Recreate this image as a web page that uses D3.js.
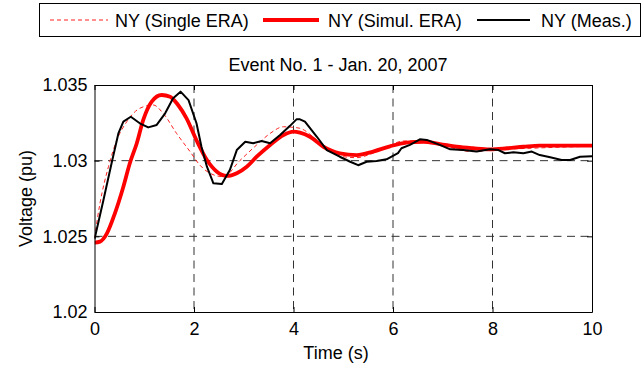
<!DOCTYPE html>
<html>
<head>
<meta charset="utf-8">
<script src="https://cdn.jsdelivr.net/npm/d3@7"></script>
<style>
  html, body { margin: 0; padding: 0; background: #fff; }
  svg { display: block; font-family: "Liberation Sans", Arial, Helvetica, sans-serif; }
</style>
</head>
<body>
<svg id="chart" width="644" height="366"></svg>
<script>
// Time stamps (s) and voltages (pu) for each trace
const singleTime = [0, 0.11, 0.28, 0.45, 0.65, 0.91, 1.18, 1.38, 1.65, 1.92, 2.12, 2.32, 2.59, 2.92, 3.26, 3.53, 3.8, 4.0, 4.13, 4.6, 4.93, 5.27, 5.6, 5.94, 6.2, 6.61, 7.0, 7.6, 8.0, 9.0, 10.0];
const singleERA  = [1.0249, 1.02718, 1.0296, 1.03137, 1.03258, 1.03346, 1.03368, 1.03313, 1.0318, 1.0306, 1.0297, 1.02917, 1.02894, 1.0300, 1.03104, 1.0318, 1.03224, 1.0322, 1.03214, 1.0310, 1.0303, 1.0302, 1.0305, 1.0310, 1.0313, 1.0313, 1.0310, 1.0306, 1.0307, 1.03085, 1.03095];

const simulTime = [0, 0.11, 0.25, 0.41, 0.58, 0.71, 0.85, 0.98, 1.15, 1.35, 1.52, 1.68, 1.85, 2.05, 2.26, 2.46, 2.66, 2.86, 3.06, 3.26, 3.53, 3.8, 4.0, 4.13, 4.33, 4.6, 4.93, 5.27, 5.6, 5.94, 6.27, 6.61, 6.94, 7.28, 7.61, 7.95, 8.29, 8.62, 8.95, 9.29, 10.0];
const simulERA  = [1.02458, 1.02465, 1.0252, 1.02652, 1.02828, 1.02983, 1.03115, 1.03269, 1.0339, 1.03434, 1.03423, 1.03368, 1.0328, 1.03135, 1.03004, 1.02927, 1.02899, 1.02917, 1.0296, 1.03026, 1.03104, 1.0317, 1.03192, 1.03185, 1.03158, 1.03092, 1.03048, 1.03037, 1.0306, 1.03095, 1.03119, 1.03125, 1.0311, 1.03092, 1.03082, 1.03075, 1.03082, 1.03092, 1.031, 1.031, 1.031];

const measTime = [0, 0.18, 0.35, 0.48, 0.58, 0.73, 0.91, 1.08, 1.25, 1.42, 1.58, 1.73, 1.89, 2.05, 2.15, 2.26, 2.39, 2.56, 2.72, 2.86, 3.03, 3.19, 3.36, 3.53, 3.73, 3.93, 4.06, 4.13, 4.23, 4.47, 4.67, 4.93, 5.14, 5.3, 5.47, 5.67, 5.87, 6.1, 6.17, 6.34, 6.54, 6.68, 6.94, 7.15, 7.41, 7.68, 7.95, 8.12, 8.25, 8.42, 8.62, 8.79, 8.95, 9.16, 9.39, 9.56, 9.76, 10.0];
const measured = [1.0248, 1.0274, 1.02993, 1.0318, 1.03258, 1.0329, 1.03247, 1.0322, 1.03236, 1.03313, 1.03412, 1.03456, 1.034, 1.03247, 1.03092, 1.0296, 1.0285, 1.02846, 1.02938, 1.0307, 1.03125, 1.03115, 1.0313, 1.03115, 1.0317, 1.0323, 1.03273, 1.03273, 1.03258, 1.03158, 1.0307, 1.03026, 1.02993, 1.0297, 1.02993, 1.02998, 1.03009, 1.0305, 1.03082, 1.03104, 1.03141, 1.03137, 1.03104, 1.03075, 1.0307, 1.0306, 1.03076, 1.0307, 1.03049, 1.03055, 1.03049, 1.0306, 1.03037, 1.03022, 1.03004, 1.03004, 1.03026, 1.0303];

const xTicks = [0, 2, 4, 6, 8, 10];
const yTicks = [1.02, 1.025, 1.03, 1.035];
const yTickLabels = ["1.02", "1.025", "1.03", "1.035"];

const titleText = "Event No. 1 - Jan. 20, 2007";
const xLabel = "Time (s)";
const yLabel = "Voltage (pu)";
const seriesNames = ["NY (Single ERA)", "NY (Simul. ERA)", "NY (Meas.)"];

const svg = d3.select("#chart");
const plot = { left: 94.5, right: 592, top: 85, bottom: 312 };
const fontSize = "18px";

const x = d3.scaleLinear().domain([0, 10]).range([plot.left, plot.right]);
const y = d3.scaleLinear().domain([1.02, 1.035]).range([plot.bottom, plot.top]);

// Dashed grid
const grid = svg.append("g").attr("stroke", "#333").attr("stroke-width", 1).attr("stroke-dasharray", "8,5.5");
xTicks.slice(1, -1).forEach(t => {
  grid.append("line").attr("x1", x(t)).attr("x2", x(t)).attr("y1", plot.top).attr("y2", plot.bottom);
});
yTicks.slice(1, -1).forEach(v => {
  grid.append("line").attr("x1", plot.left).attr("x2", plot.right).attr("y1", y(v)).attr("y2", y(v));
});

// Traces
const smooth = d3.line().x(d => x(d[0])).y(d => y(d[1])).curve(d3.curveMonotoneX);
const jagged = d3.line().x(d => x(d[0])).y(d => y(d[1]));
const zip = (ts, vs) => ts.map((t, i) => [t, vs[i]]);

svg.append("clipPath").attr("id", "clip").append("rect")
  .attr("x", plot.left).attr("y", plot.top - 2).attr("width", plot.right - plot.left).attr("height", plot.bottom - plot.top + 4);
const traces = svg.append("g").attr("clip-path", "url(#clip)");

traces.append("path").attr("d", smooth(zip(singleTime, singleERA)))
  .attr("fill", "none").attr("stroke", "#ff2020").attr("stroke-width", 1).attr("stroke-dasharray", "4,3");
traces.append("path").attr("d", smooth(zip(simulTime, simulERA)))
  .attr("fill", "none").attr("stroke", "#ff0000").attr("stroke-width", 3.8).attr("stroke-linejoin", "round");
traces.append("path").attr("d", jagged(zip(measTime, measured)))
  .attr("fill", "none").attr("stroke", "#000").attr("stroke-width", 2).attr("stroke-linejoin", "round");

// Axes box with inward ticks
const xAxisB = d3.axisBottom(x).tickValues(xTicks).tickSizeInner(-5).tickSizeOuter(0).tickPadding(9).tickFormat(d3.format("d"));
const xAxisT = d3.axisTop(x).tickValues(xTicks).tickSizeInner(-5).tickSizeOuter(0).tickFormat("");
const yAxisL = d3.axisLeft(y).tickValues(yTicks).tickSizeInner(-5).tickSizeOuter(0).tickPadding(7).tickFormat((d, i) => yTickLabels[i]);
const yAxisR = d3.axisRight(y).tickValues(yTicks).tickSizeInner(-5).tickSizeOuter(0).tickFormat("");

function styleAxis(g) {
  g.select(".domain").attr("stroke", "#000").attr("stroke-width", 1);
  g.selectAll(".tick line").attr("stroke", "#000");
  g.selectAll(".tick text").attr("fill", "#000").style("font-size", fontSize)
    .style("font-family", "'Liberation Sans', Arial, sans-serif");
}
const gxb = svg.append("g").attr("transform", `translate(0,${plot.bottom})`).call(xAxisB).call(styleAxis);
gxb.selectAll(".tick text").attr("dy", null).attr("y", 23);
svg.append("g").attr("transform", `translate(0,${plot.top})`).call(xAxisT).call(styleAxis);
svg.append("g").attr("transform", `translate(${plot.left},0)`).call(yAxisL).call(styleAxis);
svg.append("g").attr("transform", `translate(${plot.right},0)`).call(yAxisR).call(styleAxis);

// Titles
svg.append("text").attr("x", 338).attr("y", 71)
  .attr("text-anchor", "middle").style("font-size", fontSize).text(titleText);
svg.append("text").attr("x", 336).attr("y", 359)
  .attr("text-anchor", "middle").style("font-size", fontSize).text(xLabel);
svg.append("text").attr("transform", `translate(32,${(plot.top + plot.bottom) / 2}) rotate(-90)`)
  .attr("text-anchor", "middle").style("font-size", fontSize).text(yLabel);

// Legend
const legend = svg.append("g");
legend.append("rect").attr("x", 39.5).attr("y", 3.5).attr("width", 601).attr("height", 33)
  .attr("fill", "#fff").attr("stroke", "#000").attr("stroke-width", 1);
const legendItems = [
  { name: seriesNames[0], x0: 50, x1: 108, tx: 115, color: "#ff2020", w: 1, dash: "4,3" },
  { name: seriesNames[1], x0: 263, x1: 319, tx: 328, color: "#ff0000", w: 3.8, dash: null },
  { name: seriesNames[2], x0: 477, x1: 530, tx: 541, color: "#000", w: 2, dash: null }
];
legendItems.forEach(it => {
  legend.append("line").attr("x1", it.x0).attr("x2", it.x1).attr("y1", 20).attr("y2", 20)
    .attr("stroke", it.color).attr("stroke-width", it.w).attr("stroke-dasharray", it.dash);
  legend.append("text").attr("x", it.tx).attr("y", 26.5).style("font-size", fontSize).text(it.name);
});
</script>
</body>
</html>
